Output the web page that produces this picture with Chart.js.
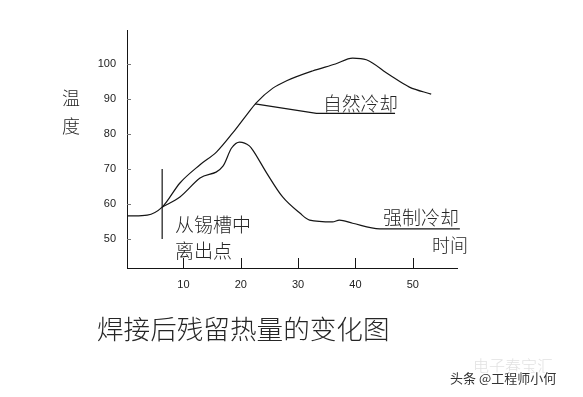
<!DOCTYPE html>
<html>
<head>
<meta charset="utf-8">
<script src="https://cdn.jsdelivr.net/npm/chart.js@4/dist/chart.umd.min.js"></script>
<style>
  html, body { margin: 0; padding: 0; background: #fff; }
  #wrap { width: 583px; height: 397px; }
</style>
</head>
<body>
<div id="wrap"><canvas id="chart" width="583" height="397"></canvas></div>
<script>
// residual heat after soldering
const xTicks = [10, 20, 30, 40, 50];
const yTicks = [50, 60, 70, 80, 90, 100];

// main curve, ends in the 自然冷却 (natural cooling) hump
const naturalX = [0.2, 1.5, 3.7, 6.3, 9.4, 12.9, 15.8, 18.6, 21.0, 22.7, 25.6, 28.0, 32.5, 36.5, 39.5, 41.9, 45.9, 49.4, 53.2];
const naturalY = [56.6, 56.6, 56.8, 59.1, 66.0, 71.2, 74.9, 80.3, 85.4, 88.9, 93.1, 95.2, 98.0, 100.0, 101.7, 101.2, 96.9, 93.4, 91.4];

// straight branch under the 自然冷却 label
const branchX = [22.5, 33.2, 46.9];
const branchY = [88.6, 85.9, 85.9];

// 强制冷却 (forced cooling)
const forcedX = [6.3, 9.4, 12.9, 16.9, 18.4, 19.8, 21.5, 22.1, 24.5, 27.3, 30.3, 32.0, 36.0, 37.2, 39.5, 44.2, 58.2];
const forcedY = [59.1, 62.0, 67.4, 70.8, 76.0, 77.7, 76.6, 75.4, 68.9, 62.0, 57.4, 55.4, 54.9, 55.4, 54.5, 52.9, 52.9];

// 离出点 marker
const markX = [6.3, 6.3];
const markY = [70, 50];

const pts = (xs, ys) => xs.map((x, i) => ({ x, y: ys[i] }));

const INK = '#151515';
const CJK = '"Noto Sans CJK SC", "Noto Sans", sans-serif';

function line(data, smooth) {
  return {
    data,
    showLine: true,
    borderColor: INK,
    borderWidth: 1.2,
    pointRadius: 0,
    fill: false,
    clip: false,
    tension: smooth ? 0.4 : 0,
    cubicInterpolationMode: smooth ? 'monotone' : 'default',
  };
}

// tick marks drawn inside the axes, plus the loose text of the figure
const decor = {
  id: 'decor',
  afterDraw(chart) {
    const { ctx, scales: { x, y } } = chart;
    const area = chart.chartArea;
    ctx.save();
    ctx.strokeStyle = INK;
    ctx.lineWidth = 1;
    xTicks.forEach((v) => {
      const px = Math.round(x.getPixelForValue(v)) + 0.5;
      ctx.beginPath();
      ctx.moveTo(px, area.bottom);
      ctx.lineTo(px, area.bottom - 10);
      ctx.stroke();
    });
    ctx.strokeStyle = '#777';
    yTicks.forEach((v) => {
      const py = Math.round(y.getPixelForValue(v)) + 0.5;
      ctx.beginPath();
      ctx.moveTo(area.left, py);
      ctx.lineTo(area.left + 4, py);
      ctx.stroke();
    });

    ctx.textBaseline = 'middle';
    ctx.textAlign = 'left';
    const notes = [
      ['温', 62, 98, 18],
      ['度', 62, 126, 18],
      ['从锡槽中', 175, 225, 19],
      ['离出点', 175, 251, 19],
      ['自然冷却', 323, 104, 18.8],
      ['强制冷却', 383, 218, 19],
      ['时间', 432, 245, 18],
      ['焊接后残留热量的变化图', 97, 329, 26.6],
    ];
    ctx.fillStyle = '#262626';
    notes.forEach(([t, px, py, size]) => {
      ctx.font = `300 ${size}px ${CJK}`;
      ctx.fillText(t, px, py);
    });

    // watermark
    ctx.font = `300 16px ${CJK}`;
    ctx.fillStyle = '#e2e2e2';
    ctx.fillText('电子春宝汇', 473, 366);
    ctx.font = `13px ${CJK}`;
    ctx.lineWidth = 3;
    ctx.strokeStyle = '#fff';
    ctx.strokeText('头条 @工程师小何', 450, 378);
    ctx.fillStyle = '#333';
    ctx.fillText('头条 @工程师小何', 450, 378);
    ctx.restore();
  },
};

new Chart(document.getElementById('chart'), {
  type: 'scatter',
  data: {
    datasets: [
      line(pts(naturalX, naturalY), true),
      line(pts(branchX, branchY), false),
      line(pts(forcedX, forcedY), true),
      line(pts(markX, markY), false),
    ],
  },
  options: {
    responsive: false,
    animation: false,
    events: [],
    layout: { padding: { top: 30, right: 126, bottom: 99, left: 80 } },
    plugins: { legend: { display: false }, tooltip: { enabled: false }, title: { display: false } },
    scales: {
      x: {
        type: 'linear',
        min: 0.17,
        max: 57.7,
        afterBuildTicks: (s) => { s.ticks = xTicks.map((v) => ({ value: v })); },
        afterFit: (s) => { s.height = 30; },
        grid: { display: false, drawTicks: false },
        border: { display: true, color: INK, width: 1 },
        ticks: { color: '#222', padding: 10, font: { family: 'Liberation Sans', size: 11 } },
      },
      y: {
        type: 'linear',
        min: 41.71,
        max: 109.71,
        afterBuildTicks: (s) => { s.ticks = yTicks.map((v) => ({ value: v })); },
        afterFit: (s) => { s.width = 47; },
        grid: { display: false, drawTicks: false },
        border: { display: true, color: INK, width: 1 },
        ticks: { color: '#222', padding: 11, font: { family: 'Liberation Sans', size: 11 } },
      },
    },
  },
  plugins: [decor],
});
</script>
</body>
</html>
